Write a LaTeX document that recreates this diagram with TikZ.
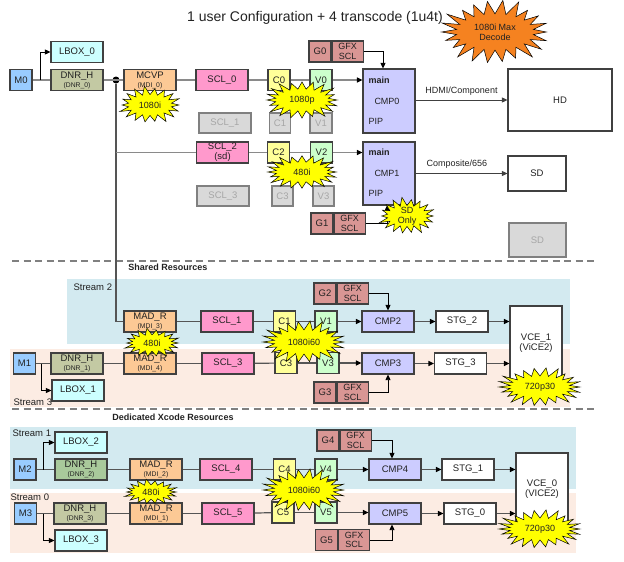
\documentclass[tikz,border=0pt]{standalone}
\usepackage{fontspec}
\setmainfont{Liberation Sans}
\usetikzlibrary{arrows.meta,calc}
\definecolor{bline}{HTML}{404040}
\definecolor{tcol}{HTML}{222222}
\definecolor{mcol}{HTML}{99CCFF}
\definecolor{lbcol}{HTML}{CCFFFF}
\definecolor{dnrcol}{HTML}{C3C9A3}
\definecolor{dnrcolb}{HTML}{A9C99B}
\definecolor{madcol}{HTML}{FCC995}
\definecolor{sclcol}{HTML}{FF99CC}
\definecolor{ccol}{HTML}{FFFF99}
\definecolor{vcol}{HTML}{CCFFCC}
\definecolor{gcol}{HTML}{D99694}
\definecolor{cmpcol}{HTML}{CCCCFF}
\definecolor{grayfill}{HTML}{D9D9D9}
\definecolor{grayline}{HTML}{808080}
\definecolor{graytext}{HTML}{A6A6A6}
\definecolor{bluebg}{HTML}{D3EAF0}
\definecolor{peachbg}{HTML}{FCECE3}
\definecolor{flowc}{HTML}{8A8A8A}
\definecolor{flowd}{HTML}{555555}
\definecolor{orangec}{HTML}{F58220}
\definecolor{burstyel}{HTML}{FFFF00}
\tikzset{
 bx/.style={draw=bline, line width=1.1pt, inner sep=0pt, minimum height=21pt, align=center, text=tcol, font=\fontsize{9.5}{10}\selectfont},
 wb/.style={bx, minimum width=52pt},
 nb/.style={bx, minimum width=22pt},
 gfxb/.style={bx, minimum width=31pt, fill=gcol, font=\fontsize{9}{9.5}\selectfont},
 grayb/.style={bx, draw=grayline, fill=grayfill, text=graytext, minimum height=20pt},
 flow/.style={draw=flowc, line width=1.6pt},
 flowtwo/.style={draw=flowd, line width=1.2pt},
 tip/.style={-{Triangle[length=5.5pt,width=5pt,color=black]}},
 arr/.style={draw=black, line width=0.8pt, -{Triangle[length=5.5pt,width=5pt]}},
 burstline/.style={draw=black, line width=0.5pt, line join=miter},
 bursttext/.style={inner sep=0pt, align=center, text=tcol, font=\fontsize{9}{10}\selectfont},
 dline/.style={draw=grayline, line width=1.4pt, dash pattern=on 7pt off 4.5pt},
 sect/.style={font=\bfseries\fontsize{9}{10}\selectfont, text=tcol},
 strm/.style={font=\fontsize{9.5}{10}\selectfont, text=tcol, anchor=west},
 lab/.style={font=\fontsize{9}{10}\selectfont, text=tcol}
}
\newcommand{\twol}[2]{#1\\[-1pt]{\fontsize{6.8}{7}\selectfont #2}}
% name, cx, cy, rx, ry, spikes, fill, text
\newcommand{\burstnode}[8]{%
 \pgfmathtruncatemacro{\lastk}{2*#6-1}%
 \pgfmathsetmacro{\stp}{180/#6}%
 \filldraw[burstline, fill=#7] plot[samples at={0,...,\lastk}, variable=\k]
   ({#2+(mod(\k,2)==0 ? #4*(1-0.13*mod(\k*7+3,5)/4) : #4*0.68)*cos(\k*\stp)},
    {#3+(mod(\k,2)==0 ? #5*(1-0.13*mod(\k*7+3,5)/4) : #5*0.55)*sin(\k*\stp)}) -- cycle;
 \node[bursttext] (#1) at (#2,#3) {#8};
}
\begin{document}
\begin{tikzpicture}[x=1pt,y=-1pt]
\useasboundingbox (0,0) rectangle (624,562);
% backgrounds
\fill[bluebg] (67,279) rectangle (570,344);
\fill[peachbg] (10,349) rectangle (570,407);
\fill[bluebg] (10,427) rectangle (576,489);
\fill[peachbg] (10,493) rectangle (576,553);
% dashed separators
\coordinate (d1a) at (12,261); \coordinate (d1b) at (598,261);
\coordinate (d2a) at (12,409); \coordinate (d2b) at (598,409);
\draw[dline] (d1a) -- (d1b);
\draw[dline] (d2a) -- (d2b);
% texts
\node[font=\fontsize{14}{16}\selectfont, text=tcol] (title) at (315,18) {1 user Configuration + 4 transcode (1u4t)};
\node[sect] (shared) at (168,267) {Shared Resources};
\node[sect] (dedic) at (173,417) {Dedicated Xcode Resources};
\node[strm] (s2) at (70,287) {Stream 2};
\node[strm] (s3) at (10,402) {Stream 3};
\node[strm] (s1) at (9,433) {Stream 1};
\node[strm] (s0) at (7,497) {Stream 0};

% ===== top row =====
\node[nb, fill=mcol] (M0) at (21,80) {M0};
\node[wb, fill=lbcol] (LB0) at (77,52) {LBOX\_0};
\node[wb, fill=dnrcol] (DNR0) at (77,80) {\twol{DNR\_H}{(DNR\_0)}};
\node[circle, fill=black, inner sep=0pt, minimum size=7pt] (dot) at (116,80) {};
\node[wb, fill=madcol] (MCVP) at (150,80) {\twol{MCVP}{(MDI\_0)}};
\node[wb, fill=sclcol] (SCL0) at (222,80) {SCL\_0};
\node[nb, fill=ccol] (C0) at (279,80) {C0};
\node[nb, fill=vcol] (V0) at (321,80) {V0};
\node[nb, fill=gcol] (G0) at (320,51.5) {G0};
\node[gfxb, anchor=west] (GFX0) at (G0.east) {GFX\\SCL};
\node[bx, fill=cmpcol, minimum width=52pt, minimum height=64pt] (CMP0) at (389,101) {};
\node[font=\bfseries\fontsize{9}{10}\selectfont, text=tcol, anchor=west] (cmp0m) at (365,80) {main};
\node[lab] (cmp0t) at (387,101) {CMP0};
\node[lab, anchor=west] (cmp0p) at (365,121) {PIP};
\node[bx, fill=white, minimum width=104pt, minimum height=62pt] (HD) at (560,100) {HD};
\node[grayb, minimum width=52pt] (SCL1g) at (225,123) {SCL\_1};
\node[grayb, minimum width=21pt] (C1g) at (280,123) {C1};
\node[grayb, minimum width=22pt] (V1g) at (321,123) {V1};

% ===== second row =====
\node[wb, fill=sclcol] (SCL2) at (222.5,152.5) {SCL\_2\\(sd)};
\node[nb, fill=ccol] (C2) at (278.5,152.5) {C2};
\node[nb, fill=vcol] (V2) at (321.5,152.5) {V2};
\node[bx, fill=cmpcol, minimum width=52pt, minimum height=63pt] (CMP1) at (389,173.5) {};
\node[font=\bfseries\fontsize{9}{10}\selectfont, text=tcol, anchor=west] (cmp1m) at (365,152.5) {main};
\node[lab] (cmp1t) at (387,173) {CMP1};
\node[lab, anchor=west] (cmp1p) at (365,193.5) {PIP};
\node[bx, fill=white, minimum width=58pt, minimum height=35pt] (SD) at (537,173.5) {SD};
\node[grayb, minimum width=57pt, minimum height=34pt] (SDg) at (537.5,240) {SD};
\node[grayb, minimum width=52pt] (SCL3g) at (223,196) {SCL\_3};
\node[grayb, minimum width=21pt] (C3g) at (282.5,196) {C3};
\node[grayb, minimum width=21pt] (V3g) at (323.5,196) {V3};
\node[nb, fill=gcol] (G1) at (322,223.5) {G1};
\node[gfxb, anchor=west] (GFX1) at (G1.east) {GFX\\SCL};

% ===== stream 2 =====
\node[wb, fill=madcol] (MAD3) at (150,321.5) {\twol{MAD\_R}{(MDI\_3)}};
\node[wb, fill=sclcol] (SCL1) at (227,321.5) {SCL\_1};
\node[nb, fill=ccol] (C1) at (284.5,321.5) {C1};
\node[nb, fill=vcol] (V1) at (326,321.5) {V1};
\node[wb, fill=cmpcol] (CMP2) at (388,321.5) {CMP2};
\node[nb, fill=gcol] (G2) at (325,293.5) {G2};
\node[gfxb, anchor=west] (GFX2) at (G2.east) {GFX\\SCL};
\node[wb, fill=white] (STG2) at (462,321.5) {STG\_2};
\node[bx, fill=white, minimum width=52pt, minimum height=74pt] (VCE1) at (536,343) {VCE\_1\\(ViCE2)};

% ===== stream 3 =====
\node[nb, fill=mcol] (M1) at (24.5,363.5) {M1};
\node[wb, fill=dnrcol] (DNR1) at (77,363.5) {\twol{DNR\_H}{(DNR\_1)}};
\node[wb, fill=lbcol] (LB1) at (78,390.5) {LBOX\_1};
\node[wb, fill=madcol] (MAD4) at (150,363.5) {\twol{MAD\_R}{(MDI\_4)}};
\node[wb, fill=sclcol] (SCL3) at (228,363.5) {SCL\_3};
\node[nb, fill=ccol] (C3) at (286,363) {C3};
\node[nb, fill=vcol] (V3) at (328,363) {V3};
\node[wb, fill=cmpcol] (CMP3) at (388,363.5) {CMP3};
\node[wb, fill=white] (STG3) at (460.5,363.5) {STG\_3};
\node[nb, fill=gcol] (G3) at (325,392.5) {G3};
\node[gfxb, anchor=west] (GFX3) at (G3.east) {GFX\\SCL};

% ===== stream 1 =====
\node[nb, fill=mcol] (M2) at (25,469.5) {M2};
\node[wb, fill=lbcol] (LB2) at (81,442.5) {LBOX\_2};
\node[wb, fill=dnrcolb] (DNR2) at (81,469.5) {\twol{DNR\_H}{(DNR\_2)}};
\node[wb, fill=madcol] (MAD2) at (156,469.5) {\twol{MAD\_R}{(MDI\_2)}};
\node[wb, fill=sclcol] (SCL4) at (226,469.5) {SCL\_4};
\node[nb, fill=ccol] (C4) at (284.5,469.5) {C4};
\node[nb, fill=vcol] (V4) at (326,469.5) {V4};
\node[wb, fill=cmpcol] (CMP4) at (395,469.5) {CMP4};
\node[nb, fill=gcol] (G4) at (328,440.5) {G4};
\node[gfxb, anchor=west] (GFX4) at (G4.east) {GFX\\SCL};
\node[wb, fill=white] (STG1) at (468,469.5) {STG\_1};
\node[bx, fill=white, minimum width=52pt, minimum height=72pt] (VCE0) at (542,489) {VCE\_0\\(VICE2)};

% ===== stream 0 =====
\node[nb, fill=mcol] (M3) at (25.5,513.5) {M3};
\node[wb, fill=dnrcol] (DNR3) at (80,513.5) {\twol{DNR\_H}{(DNR\_3)}};
\node[wb, fill=lbcol] (LB3) at (81,540.5) {LBOX\_3};
\node[wb, fill=madcol] (MAD1) at (156,513.5) {\twol{MAD\_R}{(MDI\_1)}};
\node[wb, fill=sclcol] (SCL5) at (228,513.5) {SCL\_5};
\node[nb, fill=ccol] (C5) at (283,512.5) {C5};
\node[nb, fill=vcol] (V5) at (326,512.5) {V5};
\node[wb, fill=cmpcol] (CMP5) at (395,513.5) {CMP5};
\node[wb, fill=white] (STG0) at (470,513.5) {STG\_0};
\node[nb, fill=gcol] (G5) at (326.5,540) {G5};
\node[gfxb, anchor=west] (GFX5) at (G5.east) {GFX\\SCL};

% ===== connectors =====
\coordinate (j0) at (40,80);
\coordinate (j1) at (41,363.5);
\coordinate (j2) at (43,469.5);
\coordinate (j3) at (43,513.5);
% top row flow
\draw[flow] (M0) -- (DNR0);
\draw[flow] (DNR0) -- (MCVP);
\draw[flow] (MCVP) -- (SCL0);
\draw[flow] (SCL0) -- (C0);
\draw[flow] (C0) -- (V0);
\draw[flow, tip] (V0.east) -- (V0.east -| CMP0.west);
\draw[arr] (j0) |- (LB0.west);
\draw[arr] (GFX0.east) -| ($(CMP0.north)+(-6,0)$);
\draw[arr, draw=bline] (CMP0.east |- HD.west) -- (HD.west) node[midway, above, lab, yshift=1pt] (hdmi) {HDMI/Component};
% second row
\draw[flowtwo] (dot) -- (dot |- MAD3.west) -- (MAD3.west);
\draw[flow] (dot |- SCL2.west) -- (SCL2.west);
\draw[flow] (SCL2) -- (C2);
\draw[flow] (C2) -- (V2);
\draw[flow, tip] (V2.east) -- (V2.east -| CMP1.west);
\draw[arr, draw=bline] (CMP1.east |- SD.west) -- (SD.west) node[pos=0.45, above, lab, yshift=1pt] (comp) {Composite/656};
\draw[arr] (GFX1.east) -| ($(CMP1.south)+(-2,0)$);
% stream 2
\draw[flowtwo] (MAD3) -- (SCL1);
\draw[flowtwo] (SCL1) -- (C1);
\draw[flowtwo] (C1) -- (V1);
\draw[flowtwo, tip] (V1) -- (CMP2);
\draw[flowtwo, tip] (CMP2) -- (STG2);
\draw[flowtwo, tip] (STG2.east) -- (STG2.east -| VCE1.west);
\draw[arr] (GFX2.east) -| (CMP2.north);
% stream 3
\draw[flowtwo] (M1) -- (DNR1);
\draw[flowtwo] (DNR1) -- (MAD4);
\draw[flowtwo] (MAD4) -- (SCL3);
\draw[flowtwo] (SCL3) -- (C3);
\draw[flowtwo] (C3) -- (V3);
\draw[flowtwo, tip] (V3.east) -- (V3.east -| CMP3.west);
\draw[flowtwo, tip] (CMP3) -- (STG3);
\draw[flowtwo, tip] (STG3.east) -- (STG3.east -| VCE1.west);
\draw[arr] (j1) |- (LB1.west);
\draw[arr] (GFX3.east) -| (CMP3.south);
% stream 1
\draw[flowtwo] (M2) -- (DNR2);
\draw[flowtwo] (DNR2) -- (MAD2);
\draw[flowtwo] (MAD2) -- (SCL4);
\draw[flowtwo] (SCL4) -- (C4);
\draw[flowtwo] (C4) -- (V4);
\draw[flowtwo, tip] (V4) -- (CMP4);
\draw[flowtwo, tip] (CMP4) -- (STG1);
\draw[flowtwo, tip] (STG1.east) -- (STG1.east -| VCE0.west);
\draw[arr] (j2) |- (LB2.west);
\draw[arr] (GFX4.east) -| ($(CMP4.north)+(-3,0)$);
% stream 0
\draw[flowtwo] (M3) -- (DNR3);
\draw[flowtwo] (DNR3) -- (MAD1);
\draw[flowtwo] (MAD1) -- (SCL5);
\draw[flowtwo] (SCL5) -- (C5);
\draw[flowtwo] (C5) -- (V5);
\draw[flowtwo, tip] (V5.east) -- (V5.east -| CMP5.west);
\draw[flowtwo, tip] (CMP5) -- (STG0);
\draw[flowtwo, tip] (STG0.east) -- (STG0.east -| VCE0.west);
\draw[arr] (j3) |- (LB3.west);
\draw[arr] (GFX5.east) -| ($(CMP5.south)+(-3,0)$);

% ===== bursts =====
\burstnode{b1}{150}{105}{32}{19}{18}{burstyel}{1080i}
\burstnode{b2}{302}{100}{39}{20}{20}{burstyel}{1080p}
\burstnode{b3}{302}{172}{38}{18}{20}{burstyel}{480i}
\burstnode{b4}{407}{216}{29}{19}{18}{burstyel}{SD\\Only}
\burstnode{b5}{495}{32}{57}{33}{22}{orangec}{1080i Max\\Decode}
\burstnode{b6}{152}{343}{29}{15}{18}{burstyel}{480i}
\burstnode{b7}{304}{342}{44}{22}{22}{burstyel}{1080i60}
\burstnode{b8}{540}{387}{44}{20}{22}{burstyel}{720p30}
\burstnode{b9}{151}{492}{28}{13}{18}{burstyel}{480i}
\burstnode{b10}{304}{490}{44}{22}{22}{burstyel}{1080i60}
\burstnode{b11}{540}{529}{44}{20}{22}{burstyel}{720p30}
\end{tikzpicture}
\end{document}
